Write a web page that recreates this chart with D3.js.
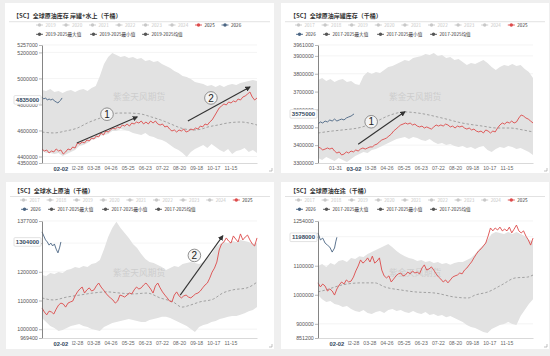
<!DOCTYPE html>
<html><head><meta charset="utf-8">
<script src="https://cdn.jsdelivr.net/npm/d3@7"></script>
<style>body{margin:0;background:#efefef;}svg{display:block;}</style>
</head><body>
<svg id="c" width="550" height="356"></svg>
<script>
// ---------- shared axis data ----------
const weekDays = d3.range(0, 365, 7);   // band sampling days (53)
const fourDays = d3.range(0, 365, 4);   // 2025 sampling days (92)
const xTickDays = [29, 58, 87, 116, 145, 174, 203, 232, 261, 290, 319];
const xTickLabels = ["01-31","02-28","03-28","04-26","05-25","06-23","07-22","08-20","09-18","10-17","11-15"];
const years1719 = ["2019","2020","2021","2022","2023","2024"];
const years1717 = ["2017","2018","2019","2020","2021","2022","2023","2024"];

// ---------- 全球原油库存 岸罐+水上 ----------
const tlYTicks = [4350000, 4400000, 4600000, 4800000, 5000000, 5200000, 5257000];
const tlMax = [4911000,4903000,4919000,4896000,4903000,4888000,4903000,4911000,4896000,4911000,
4919000,4903000,4926000,4942000,5019000,5111000,5165000,5195000,5180000,5165000,
5172000,5157000,5165000,5149000,5157000,5134000,5142000,5126000,5134000,5111000,
5096000,5080000,5057000,5042000,5019000,5011000,4996000,4973000,4965000,4957000,
4942000,4950000,4934000,4950000,4934000,4950000,4957000,4950000,4965000,4973000,
4980000,4988000,4980000];
const tlMin = [4442000,4427000,4427000,4419000,4427000,4404000,4419000,4435000,4450000,4481000,
4488000,4504000,4527000,4535000,4558000,4565000,4573000,4596000,4596000,4611000,
4604000,4596000,4581000,4573000,4565000,4581000,4558000,4550000,4535000,4527000,
4511000,4488000,4465000,4450000,4427000,4396000,4435000,4458000,4473000,4488000,
4465000,4496000,4473000,4450000,4435000,4458000,4419000,4442000,4450000,4465000,
4435000,4450000,4427000];
const tlAvgDays = [0,20,40,60,77,99,115,128,145,167,185,201,218,235,257,270,281,298,315,337,350,364];
const tlAvg = [4588000,4581000,4596000,4619000,4658000,4696000,4719000,4734000,4734000,4727000,4704000,4681000,4650000,4619000,4604000,4611000,4627000,4642000,4658000,4665000,4658000,4642000];
const tl2025 = [4458000,4442000,4450000,4427000,4442000,4435000,4458000,4442000,4450000,4419000,
4435000,4458000,4450000,4473000,4465000,4504000,4496000,4511000,4504000,4527000,
4519000,4542000,4535000,4558000,4550000,4581000,4565000,4596000,4588000,4604000,
4619000,4611000,4627000,4619000,4642000,4634000,4650000,4634000,4657000,4650000,
4665000,4657000,4673000,4650000,4665000,4650000,4673000,4657000,4673000,4650000,
4642000,4650000,4627000,4634000,4611000,4596000,4604000,4588000,4604000,4596000,
4611000,4588000,4596000,4611000,4604000,4619000,4611000,4634000,4627000,4650000,
4642000,4665000,4681000,4711000,4742000,4773000,4788000,4804000,4796000,4819000,
4811000,4827000,4819000,4842000,4834000,4857000,4865000,4880000,4896000,4857000,
4834000,4850000];
const tl2026Days = [0,3,6,9,12,15,18,21,24,27,30,32,34];
const tl2026 = [4857000,4842000,4850000,4834000,4842000,4834000,4842000,4827000,4819000,4811000,4827000,4835000,4850000];

// ---------- 全球原油岸罐库存 ----------
const trYTicks = [3300000, 3400000, 3500000, 3600000, 3700000, 3800000, 3900000, 3961000];
const trMax = [3765000,3776000,3759000,3771000,3754000,3765000,3771000,3754000,3759000,3743000,
3737000,3787000,3810000,3799000,3810000,3804000,3821000,3838000,3843000,3855000,
3866000,3877000,3871000,3888000,3894000,3899000,3911000,3905000,3916000,3899000,
3905000,3888000,3894000,3877000,3883000,3866000,3849000,3860000,3855000,3866000,
3877000,3860000,3838000,3821000,3838000,3849000,3843000,3855000,3843000,3849000,
3827000,3810000,3776000];
const trMin = [3328000,3317000,3334000,3322000,3311000,3328000,3317000,3306000,3322000,3339000,
3350000,3362000,3356000,3373000,3378000,3390000,3401000,3412000,3423000,3434000,
3440000,3446000,3434000,3446000,3440000,3429000,3423000,3434000,3418000,3406000,
3412000,3401000,3406000,3395000,3390000,3395000,3384000,3390000,3378000,3390000,
3395000,3373000,3362000,3378000,3390000,3384000,3395000,3390000,3378000,3384000,
3373000,3362000,3345000];
const trAvgDays = [0,24,41,75,97,118,147,169,210,244,278,303,325,347,364];
const trAvg = [3468000,3479000,3485000,3502000,3530000,3563000,3586000,3580000,3552000,3524000,3507000,3496000,3496000,3485000,3474000];
const tr2025 = [3390000,3384000,3373000,3378000,3384000,3378000,3384000,3367000,3356000,3362000,
3345000,3350000,3362000,3356000,3367000,3362000,3373000,3367000,3378000,3384000,
3378000,3384000,3390000,3390000,3401000,3406000,3418000,3429000,3434000,3440000,
3451000,3462000,3479000,3490000,3502000,3513000,3518000,3524000,3518000,3524000,
3513000,3518000,3507000,3502000,3507000,3496000,3502000,3496000,3490000,3502000,
3513000,3507000,3513000,3507000,3518000,3513000,3502000,3507000,3496000,3507000,
3502000,3507000,3496000,3490000,3496000,3485000,3490000,3479000,3474000,3479000,
3468000,3485000,3479000,3468000,3479000,3474000,3496000,3513000,3524000,3518000,
3530000,3524000,3535000,3524000,3530000,3552000,3569000,3563000,3552000,3546000,
3535000,3524000];
const tr2026Days = [0,4,8,12,16,20,24,28,32,36,40,44,48,52,56,61];
const tr2026 = [3518000,3530000,3524000,3535000,3530000,3541000,3535000,3546000,3535000,3541000,3546000,3541000,3552000,3558000,3563000,3575000];

// ---------- 全球水上原油 ----------
const blYTicks = [969400, 1000000, 1100000, 1200000, 1300000, 1377000];
const blMax = [1189000,1185000,1196000,1192000,1199000,1196000,1206000,1210000,1217000,1213000,
1220000,1217000,1227000,1231000,1241000,1279000,1321000,1353000,1374000,1353000,
1335000,1318000,1297000,1283000,1262000,1245000,1234000,1231000,1224000,1217000,
1206000,1213000,1220000,1217000,1227000,1231000,1234000,1231000,1227000,1234000,
1248000,1262000,1286000,1297000,1304000,1300000,1307000,1304000,1311000,1307000,
1304000,1297000,1300000];
const blMin = [1039000,1025000,1011000,1004000,994000,997000,1004000,1011000,1015000,1018000,
1011000,1008000,1001000,997000,994000,1008000,1015000,1022000,1025000,1029000,
1032000,1036000,1032000,1029000,1025000,1025000,1032000,1036000,1039000,1043000,
1043000,1039000,1032000,1025000,1018000,1011000,1001000,990000,1008000,1015000,
1018000,1025000,1029000,1036000,1039000,1043000,1046000,1046000,1050000,1056000,
1063000,1067000,1077000];
const blAvgDays = [0,19,42,64,86,110,132,154,178,200,222,237,251,267,290,306,323,347,364];
const blAvg = [1109000,1102000,1112000,1119000,1126000,1130000,1126000,1123000,1126000,1109000,1095000,1077000,1084000,1095000,1105000,1126000,1137000,1144000,1164000];
const bl2025 = [1074000,1060000,1050000,1063000,1060000,1053000,1070000,1084000,1091000,1088000,
1077000,1091000,1095000,1098000,1116000,1130000,1140000,1147000,1126000,1137000,
1144000,1133000,1137000,1151000,1161000,1147000,1137000,1126000,1116000,1109000,
1102000,1091000,1098000,1119000,1116000,1112000,1119000,1126000,1123000,1137000,
1147000,1140000,1144000,1154000,1161000,1151000,1140000,1126000,1151000,1161000,
1144000,1130000,1119000,1109000,1098000,1095000,1119000,1130000,1116000,1109000,
1116000,1119000,1112000,1109000,1116000,1123000,1126000,1133000,1144000,1154000,
1161000,1178000,1199000,1213000,1234000,1276000,1297000,1304000,1318000,1307000,
1300000,1325000,1314000,1304000,1332000,1311000,1321000,1328000,1311000,1297000,
1290000,1318000];
const bl2026Days = [0,3,6,9,12,15,18,21,24,27,30,32];
const bl2026 = [1339000,1325000,1311000,1304000,1293000,1300000,1290000,1297000,1279000,1266000,1286000,1304000];

// ---------- 全球原油在途 ----------
const brYTicks = [851200, 900000, 1000000, 1100000, 1200000, 1254000];
const brMax = [1099000,1106000,1096000,1109000,1103000,1116000,1120000,1113000,1127000,1123000,
1133000,1130000,1140000,1147000,1154000,1161000,1168000,1175000,1164000,1151000,
1140000,1133000,1127000,1123000,1116000,1120000,1113000,1116000,1109000,1113000,
1106000,1109000,1103000,1109000,1113000,1113000,1120000,1127000,1140000,1158000,
1171000,1189000,1209000,1216000,1213000,1209000,1216000,1209000,1216000,1209000,
1202000,1189000,1185000];
const brMin = [999000,985000,975000,979000,968000,965000,958000,961000,951000,944000,
941000,948000,937000,934000,941000,944000,937000,948000,951000,944000,
948000,941000,937000,944000,937000,934000,941000,930000,934000,927000,
930000,923000,927000,920000,913000,906000,896000,889000,886000,879000,
872000,868000,882000,889000,896000,899000,906000,899000,896000,927000,
948000,968000,985000];
const brAvgDays = [0,12,41,74,96,113,142,164,198,232,254,266,288,311,334,355,364];
const brAvg = [1010000,1016000,1034000,1041000,1041000,1027000,1016000,1010000,1006000,992000,989000,999000,1010000,1034000,1058000,1061000,1068000];
const br2025 = [1041000,1027000,1037000,1030000,1013000,1020000,1013000,999000,1020000,1034000,
1044000,1037000,1051000,1044000,1047000,1061000,1082000,1099000,1120000,1109000,
1116000,1127000,1113000,1133000,1109000,1116000,1127000,1085000,1065000,1058000,
1065000,1044000,1054000,1065000,1072000,1075000,1065000,1068000,1078000,1072000,
1082000,1075000,1078000,1072000,1092000,1103000,1085000,1089000,1096000,1085000,
1072000,1061000,1054000,1044000,1051000,1041000,1051000,1061000,1065000,1068000,
1075000,1072000,1085000,1092000,1103000,1113000,1127000,1140000,1151000,1158000,
1168000,1178000,1202000,1230000,1220000,1230000,1223000,1233000,1220000,1226000,
1220000,1233000,1213000,1226000,1240000,1220000,1213000,1220000,1202000,1189000,
1171000,1195000];
const br2026Days = [0,4,8,12,16,20,24,28,30,32];
const br2026 = [1213000,1189000,1195000,1178000,1171000,1164000,1147000,1161000,1182000,1198000];

// ---------- annotations (day, value) ----------
const tlNotes = [
  {num:"1", from:[59,4504000], to:[161,4704000], circle:[110,4725000]},
  {num:"2", from:[247,4673000], to:[352,4934000], circle:[286,4850000]}
];
const trNotes = [{num:"1", from:[68,3405000], to:[147,3587000], circle:[90,3531000]}];
const blNotes = [{num:"2", from:[234,1119000], to:[306,1325000], circle:[258,1257000]}];

// ---------- styles ----------
const C = {
  band:"#e2e2e2", red:"#dd4b4b", navy:"#4b6583", avg:"#9a9a9a", off:"#c8c8c8",
  dark:"#555", text:"#333", grid:"#ececec"
};
const NUMF = "'Liberation Sans', Arial, sans-serif";
const CJKF = "'Noto Sans CJK SC', 'Noto Sans', sans-serif";

const panels = [
  {box:[5,3,269,170], title:"【SC】全球原油库存 岸罐+水上（千桶）", tx:13, ty:17.5, sepY:21.7,
   plot:{l:42,r:257,t:45,b:163}, yDomain:[4350000,5257000], yTicks:tlYTicks,
   max:tlMax, min:tlMin, avgDays:tlAvgDays, avg:tlAvg, y25:tl2025, d26:tl2026Days, y26:tl2026,
   ptrDay:32, ptrLabel:"02-02", ptrVal:4835000, notes:tlNotes,
   legend:{row1x:36, step:26.5, row1y:25, row2y:34.3,
     row1:years1719.map(t=>[t,"off"]).concat([["2025","red"],["2026","navy"]]),
     row2:[["2019-2025最大值",36],["2019-2025最小值",90],["2019-2025均值",142]]}},
  {box:[281,3,268,170], title:"【SC】全球原油岸罐库存（千桶）", tx:290, ty:17.5, sepY:21.7,
   plot:{l:318,r:533,t:45,b:163}, yDomain:[3300000,3961000], yTicks:trYTicks,
   max:trMax, min:trMin, avgDays:trAvgDays, avg:trAvg, y25:tr2025, d26:tr2026Days, y26:tr2026,
   ptrDay:61, ptrLabel:"03-02", ptrVal:3575000, notes:trNotes,
   legend:{row1x:295, step:26.6, row1y:25, row2y:34.3,
     row1:years1717.map(t=>[t,"off"]).concat([["2025","red"]]),
     row2:[["2026",296,"navy"],["2017-2025最大值",323],["2017-2025最小值",377],["2017-2025均值",430]]}},
  {box:[6,182,268,167], title:"【SC】全球水上原油（千桶）", tx:14, ty:192.5, sepY:196.5,
   plot:{l:42,r:257,t:221,b:338}, yDomain:[969400,1377000], yTicks:blYTicks,
   max:blMax, min:blMin, avgDays:blAvgDays, avg:blAvg, y25:bl2025, d26:bl2026Days, y26:bl2026,
   ptrDay:32, ptrLabel:"02-02", ptrVal:1304000, notes:blNotes,
   legend:{row1x:20, step:26.6, row1y:200, row2y:209.3,
     row1:years1717.map(t=>[t,"off"]).concat([["2025","red"]]),
     row2:[["2026",21,"navy"],["2017-2025最大值",48],["2017-2025最小值",102],["2017-2025均值",155]]}},
  {box:[281,182,268,167], title:"【SC】全球原油在途（千桶）", tx:290, ty:192.5, sepY:196.5,
   plot:{l:318,r:533,t:221,b:338}, yDomain:[851200,1254000], yTicks:brYTicks,
   max:brMax, min:brMin, avgDays:brAvgDays, avg:brAvg, y25:br2025, d26:br2026Days, y26:br2026,
   ptrDay:32, ptrLabel:"02-02", ptrVal:1198000, notes:[],
   legend:{row1x:295, step:26.6, row1y:200, row2y:209.3,
     row1:years1717.map(t=>[t,"off"]).concat([["2025","red"]]),
     row2:[["2026",296,"navy"],["2017-2025最大值",323],["2017-2025最小值",377],["2017-2025均值",430]]}}
];

const svg = d3.select("#c");
svg.append("rect").attr("width",550).attr("height",356).attr("fill","#efefef");
const defs = svg.append("defs");
defs.append("marker").attr("id","arr").attr("viewBox","0 0 10 10").attr("refX",8).attr("refY",5)
  .attr("markerWidth",5).attr("markerHeight",5).attr("orient","auto")
  .append("path").attr("d","M0,0 L10,5 L0,10 Z").attr("fill","#333");

function legendItem(g, x, y, label, kind) {
  const col = kind==="off" ? C.off : kind==="red" ? C.red : kind==="navy" ? C.navy : C.dark;
  const tcol = kind==="off" ? C.off : C.text;
  g.append("line").attr("x1",x).attr("x2",x+7).attr("y1",y).attr("y2",y).attr("stroke",col).attr("stroke-width",0.9);
  g.append("circle").attr("cx",x+3.5).attr("cy",y).attr("r",1.7).attr("fill",col);
  g.append("text").attr("x",x+9.5).attr("y",y).attr("dy","0.35em").attr("font-size",4.6)
    .attr("font-family",CJKF).attr("fill",tcol).text(label);
}

panels.forEach(p => {
  const g = svg.append("g");
  const [bx,by,bw,bh] = p.box;
  g.append("rect").attr("x",bx).attr("y",by).attr("width",bw).attr("height",bh).attr("fill","#fff");
  g.append("text").attr("x",p.tx).attr("y",p.ty).attr("font-size",6).attr("font-weight","bold")
    .attr("font-family",CJKF).attr("fill","#333").text(p.title);
  g.append("line").attr("x1",bx+4).attr("x2",bx+bw-4).attr("y1",p.sepY).attr("y2",p.sepY)
    .attr("stroke","#d6d6d6").attr("stroke-width",0.7);
  // resize handle
  g.append("path").attr("d",`M${bx+bw-5},${by+bh-2} L${bx+bw-2},${by+bh-2} L${bx+bw-2},${by+bh-5}`)
    .attr("fill","none").attr("stroke","#999").attr("stroke-width",0.6);

  // legend
  const L = p.legend;
  L.row1.forEach((it,i) => legendItem(g, L.row1x + i*L.step, L.row1y, it[0], it[1]));
  L.row2.forEach(it => legendItem(g, it[1], L.row2y, it[0], it[2] || "dark"));

  const x = d3.scaleLinear().domain([0,364]).range([p.plot.l, p.plot.r]);
  const y = d3.scaleLinear().domain(p.yDomain).range([p.plot.b, p.plot.t]);

  // grid
  g.selectAll(null).data(p.yTicks.slice(1)).enter().append("line")
    .attr("x1",p.plot.l).attr("x2",p.plot.r).attr("y1",d=>y(d)).attr("y2",d=>y(d))
    .attr("stroke",C.grid).attr("stroke-width",0.6);

  // band
  const band = weekDays.map((d,i)=>({d, lo:p.min[i], hi:p.max[i]}));
  g.append("path").datum(band)
    .attr("d", d3.area().x(d=>x(d.d)).y0(d=>y(d.lo)).y1(d=>y(d.hi)))
    .attr("fill",C.band);

  // watermark
  g.append("text").attr("x",p.plot.l+97).attr("y",p.plot.t+52).attr("text-anchor","middle")
    .attr("dy","0.35em").attr("font-size",8.7).attr("font-family",CJKF).attr("fill","#cdcdcd")
    .text("紫金天风期货");

  // average
  g.append("path").datum(p.avgDays.map((d,i)=>[d,p.avg[i]]))
    .attr("d", d3.line().x(d=>x(d[0])).y(d=>y(d[1])).curve(d3.curveMonotoneX))
    .attr("fill","none").attr("stroke",C.avg).attr("stroke-width",0.9).attr("stroke-dasharray","2.5,2");

  // 2025
  g.append("path").datum(fourDays.map((d,i)=>[d,p.y25[i]]))
    .attr("d", d3.line().x(d=>x(d[0])).y(d=>y(d[1])))
    .attr("fill","none").attr("stroke",C.red).attr("stroke-width",0.9).attr("stroke-linejoin","round");

  // 2026
  g.append("path").datum(p.d26.map((d,i)=>[d,p.y26[i]]))
    .attr("d", d3.line().x(d=>x(d[0])).y(d=>y(d[1])))
    .attr("fill","none").attr("stroke",C.navy).attr("stroke-width",0.9).attr("stroke-linejoin","round");

  // axes
  const ya = g.append("g").attr("transform",`translate(${p.plot.l},0)`)
    .call(d3.axisLeft(y).tickValues(p.yTicks).tickFormat(d3.format("d")).tickSize(3).tickSizeOuter(0).tickPadding(1.2));
  ya.select(".domain").attr("stroke","#666").attr("stroke-width",0.8);
  ya.selectAll(".tick line").attr("stroke","#888").attr("stroke-width",0.6);
  ya.selectAll(".tick text").attr("font-size",5.3).attr("fill","#555").attr("font-family",NUMF);

  // x tick labels hidden behind the axis-pointer label are not drawn
  const px = x(p.ptrDay);
  const visTicks = xTickDays.map((d,i)=>[d,xTickLabels[i]]).filter(t => Math.abs(x(t[0]) - px) > 13);
  const xa = g.append("g").attr("transform",`translate(0,${p.plot.b})`)
    .call(d3.axisBottom(x).tickValues(visTicks.map(t=>t[0])).tickFormat((d,i)=>visTicks[i][1]).tickSize(0).tickPadding(3.6));
  xa.select(".domain").attr("stroke","#c8c8c8").attr("stroke-width",0.7);
  xa.selectAll(".tick text").attr("font-size",5.1).attr("fill","#666").attr("font-family",NUMF);

  // annotations
  p.notes.forEach(n => {
    g.append("line").attr("x1",x(n.from[0])).attr("y1",y(n.from[1])).attr("x2",x(n.to[0])).attr("y2",y(n.to[1]))
      .attr("stroke","#333").attr("stroke-width",1.1).attr("marker-end","url(#arr)");
    const cx = x(n.circle[0]), cy = y(n.circle[1]);
    g.append("circle").attr("cx",cx).attr("cy",cy).attr("r",6.3)
      .attr("fill","#f4f4f4").attr("stroke","#777").attr("stroke-width",0.8);
    g.append("text").attr("x",cx).attr("y",cy).attr("dy","0.36em").attr("text-anchor","middle")
      .attr("font-size",10).attr("font-family",NUMF).attr("fill","#222").text(n.num);
  });

  // axis pointer labels
  g.append("rect").attr("x",px-11).attr("y",p.plot.b+2).attr("width",22).attr("height",8).attr("fill","#fff");
  g.append("text").attr("x",px).attr("y",p.plot.b+6.2).attr("dy","0.35em").attr("text-anchor","middle")
    .attr("font-size",5.8).attr("font-weight","bold").attr("font-family",NUMF).attr("fill","#34495e").text(p.ptrLabel);
  const py = y(p.ptrVal);
  g.append("rect").attr("x",p.plot.l-28).attr("y",py-4.3).attr("width",27).attr("height",8.6)
    .attr("fill","#fff").attr("stroke","#cfcfcf").attr("stroke-width",0.6).attr("rx",1);
  g.append("text").attr("x",p.plot.l-14.5).attr("y",py).attr("dy","0.36em").attr("text-anchor","middle")
    .attr("font-size",6).attr("font-weight","bold").attr("font-family",NUMF).attr("fill","#34495e")
    .text(d3.format("d")(p.ptrVal));
});
</script>
</body></html>
